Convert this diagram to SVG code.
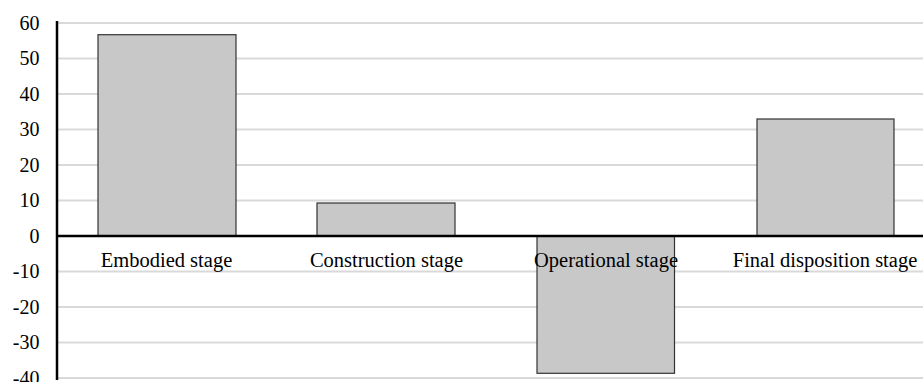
<svg xmlns="http://www.w3.org/2000/svg" width="923" height="382" viewBox="0 0 923 382">
<style>
.grid{stroke:#d9d9d9;stroke-width:2}
.axis{stroke:#000;stroke-width:2.5}
.bar{fill:#c8c8c8;stroke:#333;stroke-width:1.2}
text{font-family:'Liberation Serif','Times New Roman',Times,serif;fill:#000}
.tick{font-size:20px;text-anchor:end}
.cat{font-size:20.5px;text-anchor:middle}
</style>
<rect width="923" height="382" fill="#fff"/>
<g id="gridlines">
<line class="grid" x1="57" y1="23" x2="923" y2="23"/>
<line class="grid" x1="57" y1="58.5" x2="923" y2="58.5"/>
<line class="grid" x1="57" y1="94" x2="923" y2="94"/>
<line class="grid" x1="57" y1="129.5" x2="923" y2="129.5"/>
<line class="grid" x1="57" y1="165" x2="923" y2="165"/>
<line class="grid" x1="57" y1="200.5" x2="923" y2="200.5"/>
<line class="grid" x1="57" y1="271.5" x2="923" y2="271.5"/>
<line class="grid" x1="57" y1="307" x2="923" y2="307"/>
<line class="grid" x1="57" y1="342.5" x2="923" y2="342.5"/>
<line class="grid" x1="57" y1="378" x2="923" y2="378"/>
</g>
<g id="ticks">
<text class="tick" x="39.5" y="29.5">60</text>
<text class="tick" x="39.5" y="65">50</text>
<text class="tick" x="39.5" y="100.5">40</text>
<text class="tick" x="39.5" y="136">30</text>
<text class="tick" x="39.5" y="171.5">20</text>
<text class="tick" x="39.5" y="207">10</text>
<text class="tick" x="39.5" y="242.5">0</text>
<text class="tick" x="39.5" y="278">-10</text>
<text class="tick" x="39.5" y="313.5">-20</text>
<text class="tick" x="39.5" y="349">-30</text>
<text class="tick" x="39.5" y="384.5">-40</text>
</g>
<g id="bar-embodied"><rect class="bar" x="98" y="34.7" width="138" height="201.3"/></g>
<g id="bar-construction"><rect class="bar" x="317" y="203" width="138" height="33"/></g>
<g id="bar-operational"><rect class="bar" x="537" y="236" width="137.5" height="137.3"/></g>
<g id="bar-final"><rect class="bar" x="757" y="119" width="137" height="117"/></g>
<g id="axes">
<line class="axis" x1="57" y1="21" x2="57" y2="380"/>
<line class="axis" x1="56" y1="236" x2="923" y2="236"/>
</g>
<g id="labels">
<text class="cat" x="166.5" y="267">Embodied stage</text>
<text class="cat" x="386.5" y="267">Construction stage</text>
<text class="cat" x="606" y="267">Operational stage</text>
<text class="cat" x="825" y="267">Final disposition stage</text>
</g>
</svg>
